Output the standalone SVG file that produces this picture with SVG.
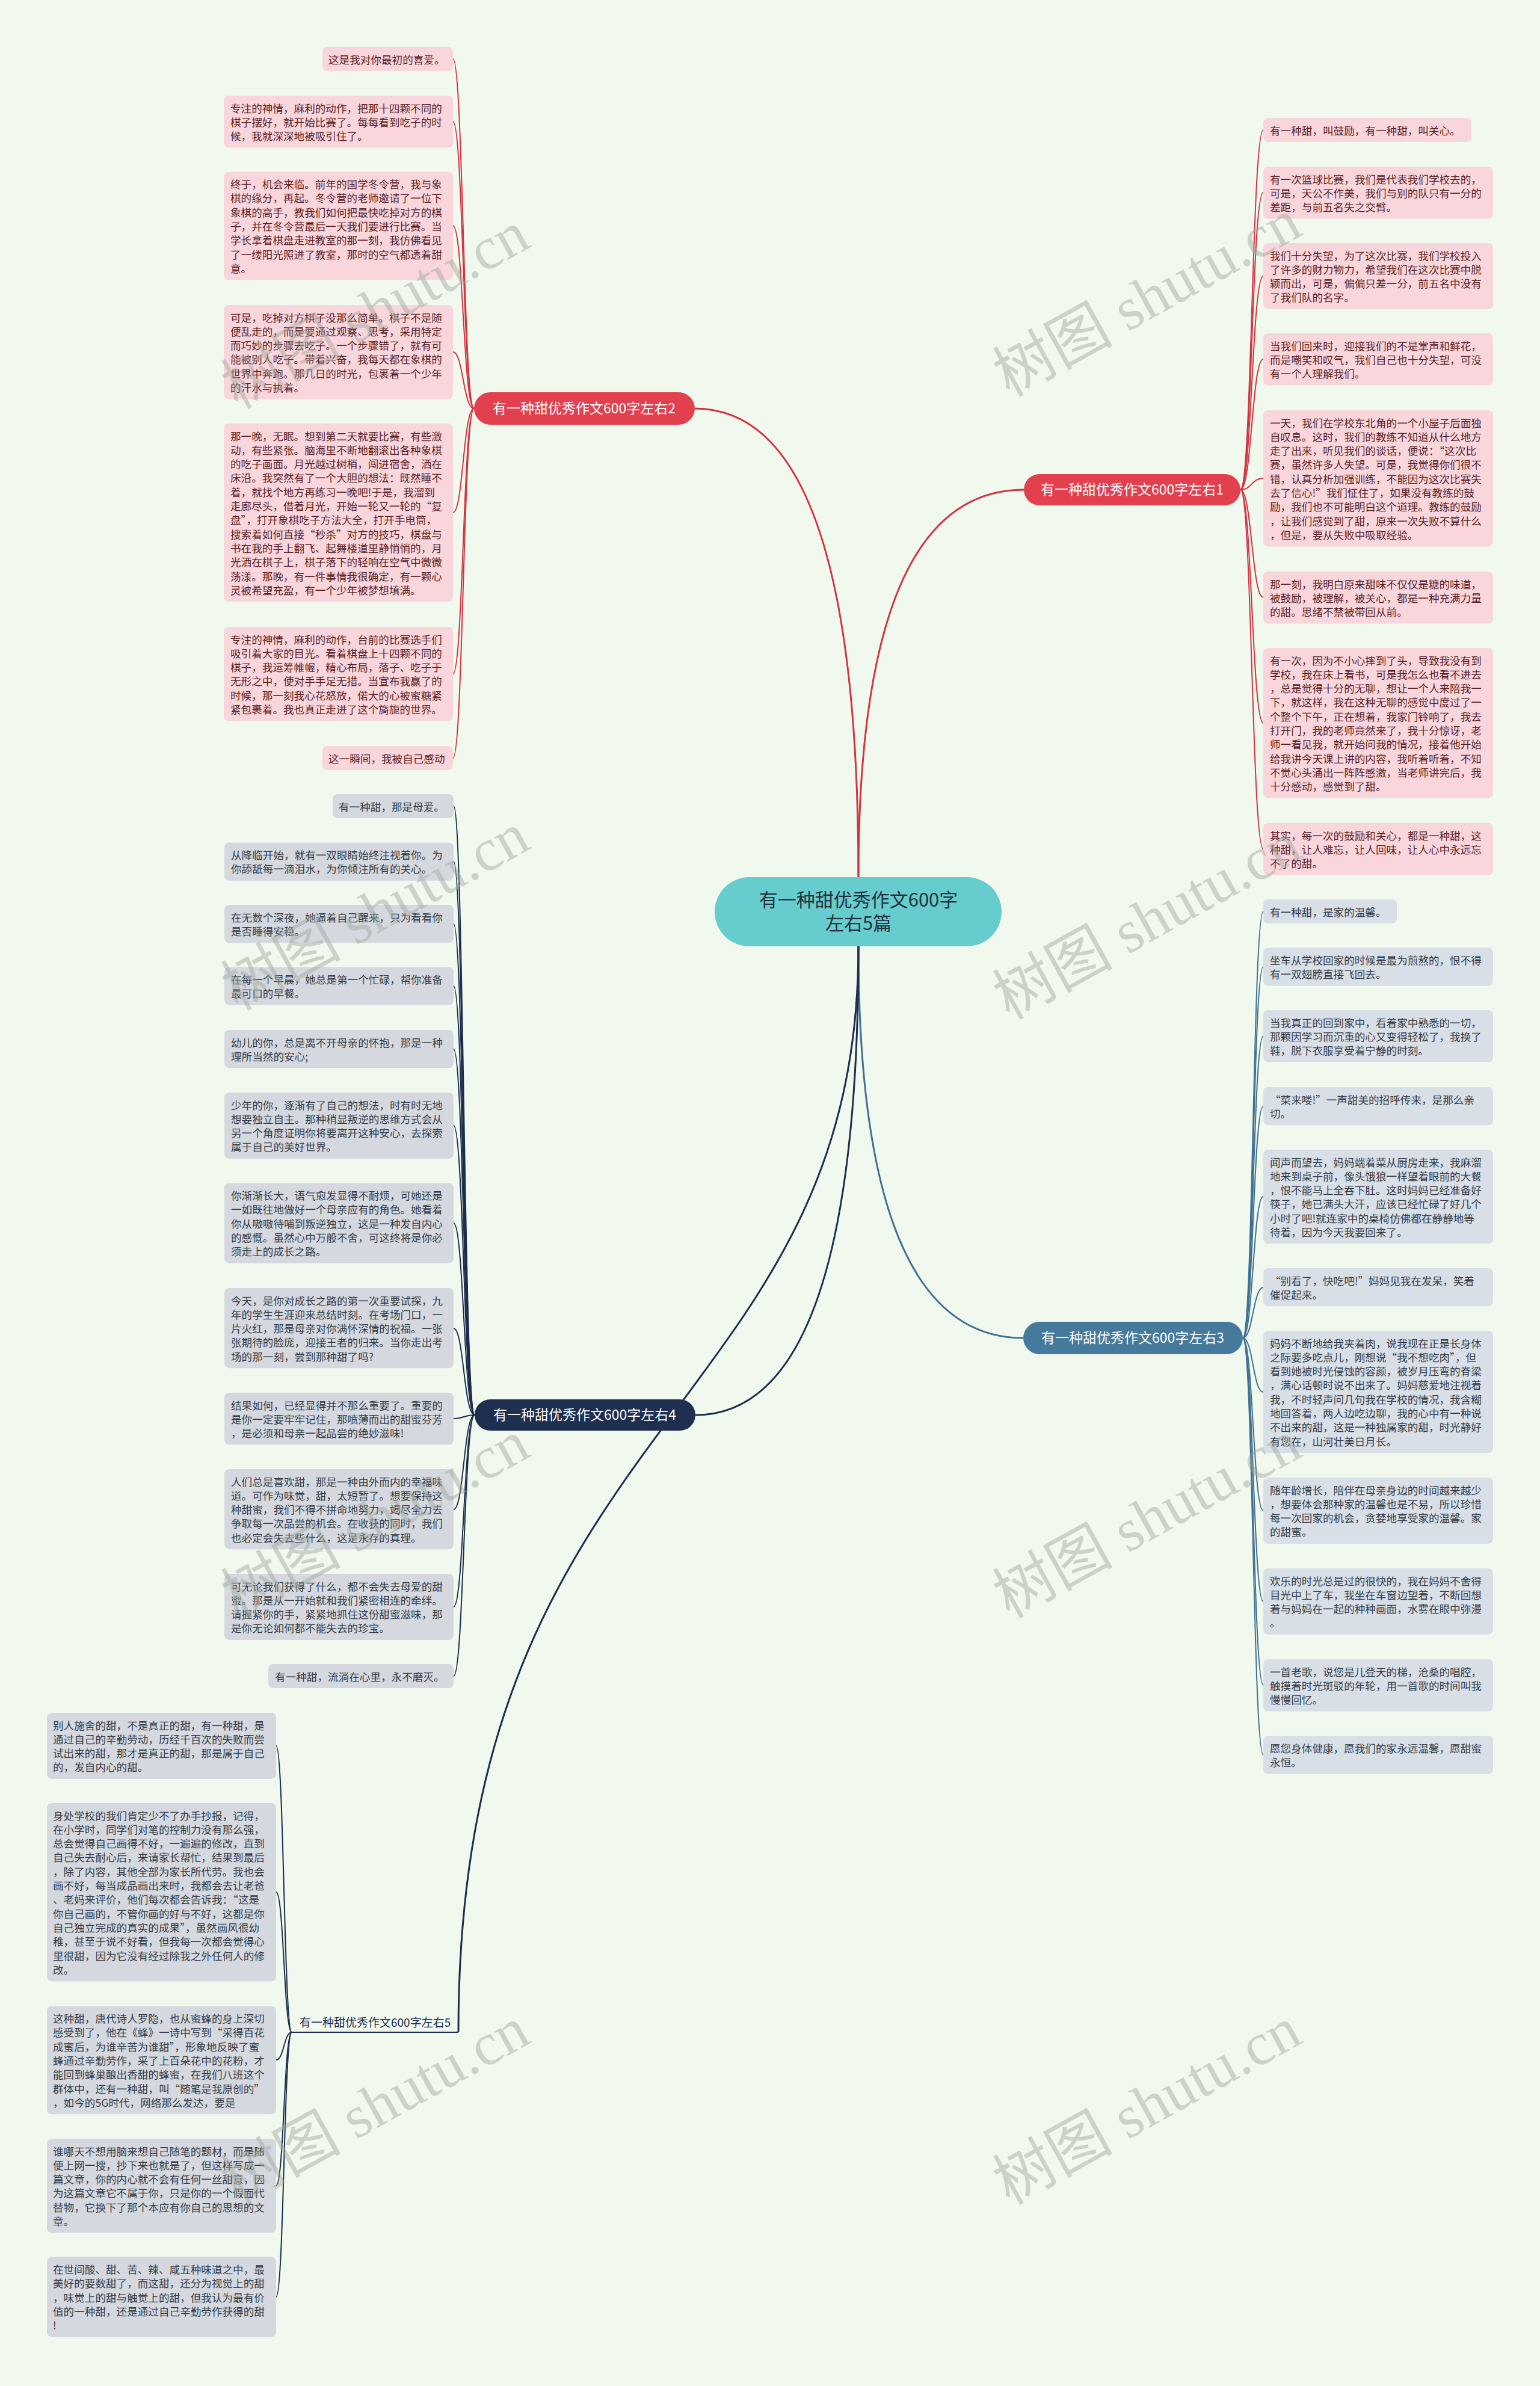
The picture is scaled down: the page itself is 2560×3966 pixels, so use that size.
<svg xmlns="http://www.w3.org/2000/svg" width="2560" height="3966" viewBox="0 0 2560 3966">
<style>
.bg{fill:#f1f9ee}
.wm{font-family:"Liberation Serif","Noto Sans CJK SC",serif;font-size:100px;fill:#9ea79e;opacity:.45;text-anchor:middle}
.ctr{fill:#66cccd}
.ctrt{font-family:"Noto Sans CJK SC",sans-serif;font-size:31px;fill:#22303c;text-anchor:middle}
.tt{font-family:"Noto Sans CJK SC",sans-serif;font-size:23px;fill:#ffffff;text-anchor:middle}
.t5{font-family:"Noto Sans CJK SC",sans-serif;font-size:19px;fill:#1c2d4d}
.red{fill:#e2404f}
.blue{fill:#467a9c}
.navy{fill:#1e2f4f}
.pk{fill:#f9d6dc}
.gb{fill:#d8dfe7}
.gr{fill:#d5d9df}
.ct{font-family:"Noto Sans CJK SC",sans-serif;font-size:17.6px}
.ctr-r{fill:#5a1f26}
.ctr-g{fill:#333b47}
.lr{fill:none;stroke:#d3333f}
.lb{fill:none;stroke:#3f7191}
.ln{fill:none;stroke:#1c2d4d}
.main{stroke-width:3}
.sub{stroke-width:2}
</style>
<rect class="bg" x="0" y="0" width="2560" height="3966"/>

<g id="connectors">
<path class="lr main" d="M1427,1458 Q1427,814 1702,814"/>
<path class="lr main" d="M1427,1458 Q1427,679 1155,679"/>
<path class="lb main" d="M1427,1573 Q1427,2224 1701,2224"/>
<path class="ln main" d="M1427,1573 Q1427,2352 1156,2352"/>
<path class="ln main" d="M1427,1573 C1427,2352 762,2352 762,3378"/>
<g class="lr sub">
<path d="M2062,814 C2081,814 2081,216 2100,216"/>
<path d="M2062,814 C2081,814 2081,320 2100,320"/>
<path d="M2062,814 C2081,814 2081,459 2100,459"/>
<path d="M2062,814 C2081,814 2081,597 2100,597"/>
<path d="M2062,814 C2081,814 2081,795 2100,795"/>
<path d="M2062,814 C2081,814 2081,993 2100,993"/>
<path d="M2062,814 C2081,814 2081,1202 2100,1202"/>
<path d="M2062,814 C2081,814 2081,1411 2100,1411"/>
<path d="M788,679 C770,679 770,98 753,98"/>
<path d="M788,679 C770,679 770,202 753,202"/>
<path d="M788,679 C770,679 770,375 753,375"/>
<path d="M788,679 C770,679 770,585 753,585"/>
<path d="M788,679 C770,679 770,852 753,852"/>
<path d="M788,679 C770,679 770,1120 753,1120"/>
<path d="M788,679 C770,679 770,1260 753,1260"/>
</g>
<g class="lb sub">
<path d="M2066,2224 C2083,2224 2083,1515 2100,1515"/>
<path d="M2066,2224 C2083,2224 2083,1607 2100,1607"/>
<path d="M2066,2224 C2083,2224 2083,1722 2100,1722"/>
<path d="M2066,2224 C2083,2224 2083,1839 2100,1839"/>
<path d="M2066,2224 C2083,2224 2083,1989 2100,1989"/>
<path d="M2066,2224 C2083,2224 2083,2140 2100,2140"/>
<path d="M2066,2224 C2083,2224 2083,2314 2100,2314"/>
<path d="M2066,2224 C2083,2224 2083,2511 2100,2511"/>
<path d="M2066,2224 C2083,2224 2083,2662 2100,2662"/>
<path d="M2066,2224 C2083,2224 2083,2801 2100,2801"/>
<path d="M2066,2224 C2083,2224 2083,2917 2100,2917"/>
</g>
<g class="ln sub">
<path d="M789,2352 C771,2352 771,1340 754,1340"/>
<path d="M789,2352 C771,2352 771,1432 754,1432"/>
<path d="M789,2352 C771,2352 771,1536 754,1536"/>
<path d="M789,2352 C771,2352 771,1639 754,1639"/>
<path d="M789,2352 C771,2352 771,1744 754,1744"/>
<path d="M789,2352 C771,2352 771,1871 754,1871"/>
<path d="M789,2352 C771,2352 771,2033 754,2033"/>
<path d="M789,2352 C771,2352 771,2208 754,2208"/>
<path d="M789,2352 C771,2352 771,2358 754,2358"/>
<path d="M789,2352 C771,2352 771,2509 754,2509"/>
<path d="M789,2352 C771,2352 771,2671 754,2671"/>
<path d="M789,2352 C771,2352 771,2786 754,2786"/>
<path d="M485,3378 C472,3378 472,2902 459,2902"/>
<path d="M485,3378 C472,3378 472,3145 459,3145"/>
<path d="M485,3378 C472,3378 472,3424 459,3424"/>
<path d="M485,3378 C472,3378 472,3633 459,3633"/>
<path d="M485,3378 C472,3378 472,3818 459,3818"/>
</g>
</g>

<g id="center">
<rect class="ctr" x="1188" y="1458" width="477" height="115" rx="57.5"/>
<text class="ctrt" x="1427" y="1507">有一种甜优秀作文600字</text>
<text class="ctrt" x="1427" y="1546">左右5篇</text>
</g>

<g id="topic1">
<rect class="red" x="1702" y="788" width="360" height="52" rx="26"/>
<text class="tt" x="1882" y="822">有一种甜优秀作文600字左右1</text>
</g>
<g id="topic2">
<rect class="red" x="788" y="652" width="367" height="54" rx="27"/>
<text class="tt" x="971" y="687">有一种甜优秀作文600字左右2</text>
</g>
<g id="topic3">
<rect class="blue" x="1701" y="2197" width="365" height="54" rx="27"/>
<text class="tt" x="1883" y="2232">有一种甜优秀作文600字左右3</text>
</g>
<g id="topic4">
<rect class="navy" x="789" y="2326" width="367" height="52" rx="26"/>
<text class="tt" x="972" y="2360">有一种甜优秀作文600字左右4</text>
</g>
<g id="topic5">
<text class="t5" x="498" y="3369">有一种甜优秀作文600字左右5</text>
<path class="ln sub" d="M762,3378 L485,3378"/>
</g>

<g id="t1c1"><rect class="pk" x="2100" y="196" width="346" height="40" rx="8"/>
<text class="ct ctr-r" x="2111" y="223.5">有一种甜，叫鼓励，有一种甜，叫关心。</text></g>
<g id="t1c2"><rect class="pk" x="2100" y="277" width="382" height="86.6" rx="8"/>
<text class="ct ctr-r" y="304.5"><tspan x="2111">有一次篮球比赛，我们是代表我们学校去的，</tspan><tspan x="2111" dy="23.3">可是，天公不作美，我们与别的队只有一分的</tspan><tspan x="2111" dy="23.3">差距，与前五名失之交臂。</tspan></text></g>
<g id="t1c3"><rect class="pk" x="2100" y="404" width="382" height="109.9" rx="8"/>
<text class="ct ctr-r" y="431.5"><tspan x="2111">我们十分失望，为了这次比赛，我们学校投入</tspan><tspan x="2111" dy="23.3">了许多的财力物力，希望我们在这次比赛中脱</tspan><tspan x="2111" dy="23.3">颖而出，可是，偏偏只差一分，前五名中没有</tspan><tspan x="2111" dy="23.3">了我们队的名字。</tspan></text></g>
<g id="t1c4"><rect class="pk" x="2100" y="554" width="382" height="86.6" rx="8"/>
<text class="ct ctr-r" y="581.5"><tspan x="2111">当我们回来时，迎接我们的不是掌声和鲜花，</tspan><tspan x="2111" dy="23.3">而是嘲笑和叹气，我们自己也十分失望，可没</tspan><tspan x="2111" dy="23.3">有一个人理解我们。</tspan></text></g>
<g id="t1c5"><rect class="pk" x="2100" y="682" width="382" height="226.4" rx="8"/>
<text class="ct ctr-r" y="709.5"><tspan x="2111">一天，我们在学校东北角的一个小屋子后面独</tspan><tspan x="2111" dy="23.3">自叹息。这时，我们的教练不知道从什么地方</tspan><tspan x="2111" dy="23.3">走了出来，听见我们的谈话，便说：“这次比</tspan><tspan x="2111" dy="23.3">赛，虽然许多人失望。可是，我觉得你们很不</tspan><tspan x="2111" dy="23.3">错，认真分析加强训练，不能因为这次比赛失</tspan><tspan x="2111" dy="23.3">去了信心!”我们怔住了，如果没有教练的鼓</tspan><tspan x="2111" dy="23.3">励，我们也不可能明白这个道理。教练的鼓励</tspan><tspan x="2111" dy="23.3">，让我们感觉到了甜，原来一次失败不算什么</tspan><tspan x="2111" dy="23.3">，但是，要从失败中吸取经验。</tspan></text></g>
<g id="t1c6"><rect class="pk" x="2100" y="950" width="382" height="86.6" rx="8"/>
<text class="ct ctr-r" y="977.5"><tspan x="2111">那一刻，我明白原来甜味不仅仅是糖的味道，</tspan><tspan x="2111" dy="23.3">被鼓励，被理解，被关心，都是一种充满力量</tspan><tspan x="2111" dy="23.3">的甜。思绪不禁被带回从前。</tspan></text></g>
<g id="t1c7"><rect class="pk" x="2100" y="1077" width="382" height="249.7" rx="8"/>
<text class="ct ctr-r" y="1104.5"><tspan x="2111">有一次，因为不小心摔到了头，导致我没有到</tspan><tspan x="2111" dy="23.3">学校，我在床上看书，可是我怎么也看不进去</tspan><tspan x="2111" dy="23.3">，总是觉得十分的无聊，想让一个人来陪我一</tspan><tspan x="2111" dy="23.3">下，就这样，我在这种无聊的感觉中度过了一</tspan><tspan x="2111" dy="23.3">个整个下午，正在想着，我家门铃响了，我去</tspan><tspan x="2111" dy="23.3">打开门，我的老师竟然来了，我十分惊讶，老</tspan><tspan x="2111" dy="23.3">师一看见我，就开始问我的情况，接着他开始</tspan><tspan x="2111" dy="23.3">给我讲今天课上讲的内容，我听着听着，不知</tspan><tspan x="2111" dy="23.3">不觉心头涌出一阵阵感激，当老师讲完后，我</tspan><tspan x="2111" dy="23.3">十分感动，感觉到了甜。</tspan></text></g>
<g id="t1c8"><rect class="pk" x="2100" y="1368" width="382" height="86.6" rx="8"/>
<text class="ct ctr-r" y="1395.5"><tspan x="2111">其实，每一次的鼓励和关心，都是一种甜，这</tspan><tspan x="2111" dy="23.3">种甜，让人难忘，让人回味，让人心中永远忘</tspan><tspan x="2111" dy="23.3">不了的甜。</tspan></text></g>

<g id="t2c1"><rect class="pk" x="536" y="78" width="217" height="40" rx="8"/>
<text class="ct ctr-r" x="546" y="105.5">这是我对你最初的喜爱。</text></g>
<g id="t2c2"><rect class="pk" x="372" y="159" width="381" height="86.6" rx="8"/>
<text class="ct ctr-r" y="186.5"><tspan x="383">专注的神情，麻利的动作，把那十四颗不同的</tspan><tspan x="383" dy="23.3">棋子摆好，就开始比赛了。每每看到吃子的时</tspan><tspan x="383" dy="23.3">候，我就深深地被吸引住了。</tspan></text></g>
<g id="t2c3"><rect class="pk" x="372" y="285.5" width="381" height="179.8" rx="8"/>
<text class="ct ctr-r" y="313"><tspan x="383">终于，机会来临。前年的国学冬令营，我与象</tspan><tspan x="383" dy="23.3">棋的缘分，再起。冬令营的老师邀请了一位下</tspan><tspan x="383" dy="23.3">象棋的高手，教我们如何把最快吃掉对方的棋</tspan><tspan x="383" dy="23.3">子，并在冬令营最后一天我们要进行比赛。当</tspan><tspan x="383" dy="23.3">学长拿着棋盘走进教室的那一刻，我仿佛看见</tspan><tspan x="383" dy="23.3">了一缕阳光照进了教室，那时的空气都透着甜</tspan><tspan x="383" dy="23.3">意。</tspan></text></g>
<g id="t2c4"><rect class="pk" x="372" y="507" width="381" height="156.5" rx="8"/>
<text class="ct ctr-r" y="534.5"><tspan x="383">可是，吃掉对方棋子没那么简单。棋子不是随</tspan><tspan x="383" dy="23.3">便乱走的，而是要通过观察、思考，采用特定</tspan><tspan x="383" dy="23.3">而巧妙的步骤去吃子。一个步骤错了，就有可</tspan><tspan x="383" dy="23.3">能被别人吃子。带着兴奋，我每天都在象棋的</tspan><tspan x="383" dy="23.3">世界中奔跑。那几日的时光，包裹着一个少年</tspan><tspan x="383" dy="23.3">的汗水与执着。</tspan></text></g>
<g id="t2c5"><rect class="pk" x="372" y="704" width="381" height="296.3" rx="8"/>
<text class="ct ctr-r" y="731.5"><tspan x="383">那一晚，无眠。想到第二天就要比赛，有些激</tspan><tspan x="383" dy="23.3">动，有些紧张。脑海里不断地翻滚出各种象棋</tspan><tspan x="383" dy="23.3">的吃子画面。月光越过树梢，闯进宿舍，洒在</tspan><tspan x="383" dy="23.3">床沿。我突然有了一个大胆的想法：既然睡不</tspan><tspan x="383" dy="23.3">着，就找个地方再练习一晚吧!于是，我溜到</tspan><tspan x="383" dy="23.3">走廊尽头，借着月光，开始一轮又一轮的“复</tspan><tspan x="383" dy="23.3">盘”，打开象棋吃子方法大全，打开手电筒，</tspan><tspan x="383" dy="23.3">搜索着如何直接“秒杀”对方的技巧，棋盘与</tspan><tspan x="383" dy="23.3">书在我的手上翻飞、起舞楼道里静悄悄的，月</tspan><tspan x="383" dy="23.3">光洒在棋子上，棋子落下的轻响在空气中微微</tspan><tspan x="383" dy="23.3">荡漾。那晚，有一件事情我很确定，有一颗心</tspan><tspan x="383" dy="23.3">灵被希望充盈，有一个少年被梦想填满。</tspan></text></g>
<g id="t2c6"><rect class="pk" x="372" y="1042" width="381" height="156.5" rx="8"/>
<text class="ct ctr-r" y="1069.5"><tspan x="383">专注的神情，麻利的动作，台前的比赛选手们</tspan><tspan x="383" dy="23.3">吸引着大家的目光。看着棋盘上十四颗不同的</tspan><tspan x="383" dy="23.3">棋子，我运筹帷幄，精心布局，落子、吃子于</tspan><tspan x="383" dy="23.3">无形之中，使对手手足无措。当宣布我赢了的</tspan><tspan x="383" dy="23.3">时候，那一刻我心花怒放，偌大的心被蜜糖紧</tspan><tspan x="383" dy="23.3">紧包裹着。我也真正走进了这个旖旎的世界。</tspan></text></g>
<g id="t2c7"><rect class="pk" x="536" y="1240" width="217" height="40" rx="8"/>
<text class="ct ctr-r" x="546" y="1267.5">这一瞬间，我被自己感动</text></g>

<g id="t3c1"><rect class="gb" x="2100" y="1495" width="222" height="40" rx="8"/>
<text class="ct ctr-g" x="2111" y="1522.5">有一种甜，是家的温馨。</text></g>
<g id="t3c2"><rect class="gb" x="2100" y="1575.5" width="382" height="63.3" rx="8"/>
<text class="ct ctr-g" y="1603"><tspan x="2111">坐车从学校回家的时候是最为煎熬的，恨不得</tspan><tspan x="2111" dy="23.3">有一双翅膀直接飞回去。</tspan></text></g>
<g id="t3c3"><rect class="gb" x="2100" y="1679" width="382" height="86.6" rx="8"/>
<text class="ct ctr-g" y="1706.5"><tspan x="2111">当我真正的回到家中，看着家中熟悉的一切，</tspan><tspan x="2111" dy="23.3">那颗因学习而沉重的心又变得轻松了，我换了</tspan><tspan x="2111" dy="23.3">鞋，脱下衣服享受着宁静的时刻。</tspan></text></g>
<g id="t3c4"><rect class="gb" x="2100" y="1807" width="382" height="63.3" rx="8"/>
<text class="ct ctr-g" y="1834.5"><tspan x="2111">“菜来喽!”一声甜美的招呼传来，是那么亲</tspan><tspan x="2111" dy="23.3">切。</tspan></text></g>
<g id="t3c5"><rect class="gb" x="2100" y="1911" width="382" height="156.5" rx="8"/>
<text class="ct ctr-g" y="1938.5"><tspan x="2111">闻声而望去，妈妈端着菜从厨房走来，我麻溜</tspan><tspan x="2111" dy="23.3">地来到桌子前，像头饿狼一样望着眼前的大餐</tspan><tspan x="2111" dy="23.3">，恨不能马上全吞下肚。这时妈妈已经准备好</tspan><tspan x="2111" dy="23.3">筷子，她已满头大汗，应该已经忙碌了好几个</tspan><tspan x="2111" dy="23.3">小时了吧!就连家中的桌椅仿佛都在静静地等</tspan><tspan x="2111" dy="23.3">待着，因为今天我要回来了。</tspan></text></g>
<g id="t3c6"><rect class="gb" x="2100" y="2108" width="382" height="63.3" rx="8"/>
<text class="ct ctr-g" y="2135.5"><tspan x="2111">“别看了，快吃吧!”妈妈见我在发呆，笑着</tspan><tspan x="2111" dy="23.3">催促起来。</tspan></text></g>
<g id="t3c7"><rect class="gb" x="2100" y="2212" width="382" height="203.1" rx="8"/>
<text class="ct ctr-g" y="2239.5"><tspan x="2111">妈妈不断地给我夹着肉，说我现在正是长身体</tspan><tspan x="2111" dy="23.3">之际要多吃点儿，刚想说“我不想吃肉”，但</tspan><tspan x="2111" dy="23.3">看到她被时光侵蚀的容颜，被岁月压弯的脊梁</tspan><tspan x="2111" dy="23.3">，满心话顿时说不出来了。妈妈慈爱地注视着</tspan><tspan x="2111" dy="23.3">我，不时轻声问几句我在学校的情况，我含糊</tspan><tspan x="2111" dy="23.3">地回答着，两人边吃边聊，我的心中有一种说</tspan><tspan x="2111" dy="23.3">不出来的甜，这是一种独属家的甜，时光静好</tspan><tspan x="2111" dy="23.3">有您在，山河壮美日月长。</tspan></text></g>
<g id="t3c8"><rect class="gb" x="2100" y="2456" width="382" height="109.9" rx="8"/>
<text class="ct ctr-g" y="2483.5"><tspan x="2111">随年龄增长，陪伴在母亲身边的时间越来越少</tspan><tspan x="2111" dy="23.3">，想要体会那种家的温馨也是不易，所以珍惜</tspan><tspan x="2111" dy="23.3">每一次回家的机会，贪婪地享受家的温馨。家</tspan><tspan x="2111" dy="23.3">的甜蜜。</tspan></text></g>
<g id="t3c9"><rect class="gb" x="2100" y="2607" width="382" height="109.9" rx="8"/>
<text class="ct ctr-g" y="2634.5"><tspan x="2111">欢乐的时光总是过的很快的，我在妈妈不舍得</tspan><tspan x="2111" dy="23.3">目光中上了车，我坐在车窗边望着，不断回想</tspan><tspan x="2111" dy="23.3">着与妈妈在一起的种种画面，水雾在眼中弥漫</tspan><tspan x="2111" dy="23.3">。</tspan></text></g>
<g id="t3c10"><rect class="gb" x="2100" y="2758" width="382" height="86.6" rx="8"/>
<text class="ct ctr-g" y="2785.5"><tspan x="2111">一首老歌，说您是儿登天的梯，沧桑的唱腔，</tspan><tspan x="2111" dy="23.3">触摸着时光斑驳的年轮，用一首歌的时间叫我</tspan><tspan x="2111" dy="23.3">慢慢回忆。</tspan></text></g>
<g id="t3c11"><rect class="gb" x="2100" y="2885.5" width="382" height="63.3" rx="8"/>
<text class="ct ctr-g" y="2913"><tspan x="2111">愿您身体健康，愿我们的家永远温馨，愿甜蜜</tspan><tspan x="2111" dy="23.3">永恒。</tspan></text></g>

<g id="t4c1"><rect class="gr" x="553" y="1320" width="201" height="40" rx="8"/>
<text class="ct ctr-g" x="563" y="1347.5">有一种甜，那是母爱。</text></g>
<g id="t4c2"><rect class="gr" x="373" y="1400.5" width="381" height="63.3" rx="8"/>
<text class="ct ctr-g" y="1428"><tspan x="384">从降临开始，就有一双眼睛始终注视着你。为</tspan><tspan x="384" dy="23.3">你舔舐每一滴泪水，为你倾注所有的关心。</tspan></text></g>
<g id="t4c3"><rect class="gr" x="373" y="1504" width="381" height="63.3" rx="8"/>
<text class="ct ctr-g" y="1531.5"><tspan x="384">在无数个深夜，她逼着自己醒来，只为看看你</tspan><tspan x="384" dy="23.3">是否睡得安稳。</tspan></text></g>
<g id="t4c4"><rect class="gr" x="373" y="1607.5" width="381" height="63.3" rx="8"/>
<text class="ct ctr-g" y="1635"><tspan x="384">在每一个早晨，她总是第一个忙碌，帮你准备</tspan><tspan x="384" dy="23.3">最可口的早餐。</tspan></text></g>
<g id="t4c5"><rect class="gr" x="373" y="1712" width="381" height="63.3" rx="8"/>
<text class="ct ctr-g" y="1739.5"><tspan x="384">幼儿的你，总是离不开母亲的怀抱，那是一种</tspan><tspan x="384" dy="23.3">理所当然的安心;</tspan></text></g>
<g id="t4c6"><rect class="gr" x="373" y="1816" width="381" height="109.9" rx="8"/>
<text class="ct ctr-g" y="1843.5"><tspan x="384">少年的你，逐渐有了自己的想法，时有时无地</tspan><tspan x="384" dy="23.3">想要独立自主。那种稍显叛逆的思维方式会从</tspan><tspan x="384" dy="23.3">另一个角度证明你将要离开这种安心，去探索</tspan><tspan x="384" dy="23.3">属于自己的美好世界。</tspan></text></g>
<g id="t4c7"><rect class="gr" x="373" y="1966.5" width="381" height="133.2" rx="8"/>
<text class="ct ctr-g" y="1994"><tspan x="384">你渐渐长大，语气愈发显得不耐烦，可她还是</tspan><tspan x="384" dy="23.3">一如既往地做好一个母亲应有的角色。她看着</tspan><tspan x="384" dy="23.3">你从嗷嗷待哺到叛逆独立，这是一种发自内心</tspan><tspan x="384" dy="23.3">的感慨。虽然心中万般不舍，可这终将是你必</tspan><tspan x="384" dy="23.3">须走上的成长之路。</tspan></text></g>
<g id="t4c8"><rect class="gr" x="373" y="2141" width="381" height="133.2" rx="8"/>
<text class="ct ctr-g" y="2168.5"><tspan x="384">今天，是你对成长之路的第一次重要试探，九</tspan><tspan x="384" dy="23.3">年的学生生涯迎来总结时刻。在考场门口，一</tspan><tspan x="384" dy="23.3">片火红，那是母亲对你满怀深情的祝福。一张</tspan><tspan x="384" dy="23.3">张期待的脸庞，迎接王者的归来。当你走出考</tspan><tspan x="384" dy="23.3">场的那一刻，尝到那种甜了吗?</tspan></text></g>
<g id="t4c9"><rect class="gr" x="373" y="2315" width="381" height="86.6" rx="8"/>
<text class="ct ctr-g" y="2342.5"><tspan x="384">结果如何，已经显得并不那么重要了。重要的</tspan><tspan x="384" dy="23.3">是你一定要牢牢记住，那喷薄而出的甜蜜芬芳</tspan><tspan x="384" dy="23.3">，是必须和母亲一起品尝的绝妙滋味!</tspan></text></g>
<g id="t4c10"><rect class="gr" x="373" y="2442" width="381" height="133.2" rx="8"/>
<text class="ct ctr-g" y="2469.5"><tspan x="384">人们总是喜欢甜，那是一种由外而内的幸福味</tspan><tspan x="384" dy="23.3">道。可作为味觉，甜，太短暂了。想要保持这</tspan><tspan x="384" dy="23.3">种甜蜜，我们不得不拼命地努力，竭尽全力去</tspan><tspan x="384" dy="23.3">争取每一次品尝的机会。在收获的同时，我们</tspan><tspan x="384" dy="23.3">也必定会失去些什么，这是永存的真理。</tspan></text></g>
<g id="t4c11"><rect class="gr" x="373" y="2616" width="381" height="109.9" rx="8"/>
<text class="ct ctr-g" y="2643.5"><tspan x="384">可无论我们获得了什么，都不会失去母爱的甜</tspan><tspan x="384" dy="23.3">蜜。那是从一开始就和我们紧密相连的牵绊。</tspan><tspan x="384" dy="23.3">请握紧你的手，紧紧地抓住这份甜蜜滋味，那</tspan><tspan x="384" dy="23.3">是你无论如何都不能失去的珍宝。</tspan></text></g>
<g id="t4c12"><rect class="gr" x="446" y="2766" width="308" height="40" rx="8"/>
<text class="ct ctr-g" x="457" y="2793.5">有一种甜，流淌在心里，永不磨灭。</text></g>

<g id="t5c1"><rect class="gr" x="78" y="2847" width="381" height="109.9" rx="8"/>
<text class="ct ctr-g" y="2874.5"><tspan x="88">别人施舍的甜，不是真正的甜，有一种甜，是</tspan><tspan x="88" dy="23.3">通过自己的辛勤劳动，历经千百次的失败而尝</tspan><tspan x="88" dy="23.3">试出来的甜，那才是真正的甜，那是属于自己</tspan><tspan x="88" dy="23.3">的，发自内心的甜。</tspan></text></g>
<g id="t5c2"><rect class="gr" x="78" y="2997" width="381" height="296.3" rx="8"/>
<text class="ct ctr-g" y="3024.5"><tspan x="88">身处学校的我们肯定少不了办手抄报，记得，</tspan><tspan x="88" dy="23.3">在小学时，同学们对笔的控制力没有那么强，</tspan><tspan x="88" dy="23.3">总会觉得自己画得不好，一遍遍的修改，直到</tspan><tspan x="88" dy="23.3">自己失去耐心后，来请家长帮忙，结果到最后</tspan><tspan x="88" dy="23.3">，除了内容，其他全部为家长所代劳。我也会</tspan><tspan x="88" dy="23.3">画不好，每当成品画出来时，我都会去让老爸</tspan><tspan x="88" dy="23.3">、老妈来评价，他们每次都会告诉我：“这是</tspan><tspan x="88" dy="23.3">你自己画的，不管你画的好与不好，这都是你</tspan><tspan x="88" dy="23.3">自己独立完成的真实的成果”，虽然画风很幼</tspan><tspan x="88" dy="23.3">稚，甚至于说不好看，但我每一次都会觉得心</tspan><tspan x="88" dy="23.3">里很甜，因为它没有经过除我之外任何人的修</tspan><tspan x="88" dy="23.3">改。</tspan></text></g>
<g id="t5c3"><rect class="gr" x="78" y="3334.5" width="381" height="179.8" rx="8"/>
<text class="ct ctr-g" y="3362"><tspan x="88">这种甜，唐代诗人罗隐，也从蜜蜂的身上深切</tspan><tspan x="88" dy="23.3">感受到了，他在《蜂》一诗中写到“采得百花</tspan><tspan x="88" dy="23.3">成蜜后，为谁辛苦为谁甜”，形象地反映了蜜</tspan><tspan x="88" dy="23.3">蜂通过辛勤劳作，采了上百朵花中的花粉，才</tspan><tspan x="88" dy="23.3">能回到蜂巢酿出香甜的蜂蜜，在我们八班这个</tspan><tspan x="88" dy="23.3">群体中，还有一种甜，叫“随笔是我原创的”</tspan><tspan x="88" dy="23.3">，如今的5G时代，网络那么发达，要是</tspan></text></g>
<g id="t5c4"><rect class="gr" x="78" y="3555" width="381" height="156.5" rx="8"/>
<text class="ct ctr-g" y="3582.5"><tspan x="88">谁哪天不想用脑来想自己随笔的题材，而是随</tspan><tspan x="88" dy="23.3">便上网一搜，抄下来也就是了，但这样写成一</tspan><tspan x="88" dy="23.3">篇文章，你的内心就不会有任何一丝甜意，因</tspan><tspan x="88" dy="23.3">为这篇文章它不属于你，只是你的一个假面代</tspan><tspan x="88" dy="23.3">替物，它换下了那个本应有你自己的思想的文</tspan><tspan x="88" dy="23.3">章。</tspan></text></g>
<g id="t5c5"><rect class="gr" x="78" y="3751.5" width="381" height="133.2" rx="8"/>
<text class="ct ctr-g" y="3779"><tspan x="88">在世间酸、甜、苦、辣、咸五种味道之中，最</tspan><tspan x="88" dy="23.3">美好的要数甜了，而这甜，还分为视觉上的甜</tspan><tspan x="88" dy="23.3">，味觉上的甜与触觉上的甜，但我认为最有价</tspan><tspan x="88" dy="23.3">值的一种甜，还是通过自己辛勤劳作获得的甜</tspan><tspan x="88" dy="23.3">!</tspan></text></g>

<g id="watermarks">
<text class="wm" transform="translate(640,545) rotate(-29)">树图 shutu.cn</text>
<text class="wm" transform="translate(1923,525) rotate(-29)">树图 shutu.cn</text>
<text class="wm" transform="translate(640,1545) rotate(-29)">树图 shutu.cn</text>
<text class="wm" transform="translate(1923,1560) rotate(-29)">树图 shutu.cn</text>
<text class="wm" transform="translate(640,2555) rotate(-29)">树图 shutu.cn</text>
<text class="wm" transform="translate(1923,2555) rotate(-29)">树图 shutu.cn</text>
<text class="wm" transform="translate(640,3530) rotate(-29)">树图 shutu.cn</text>
<text class="wm" transform="translate(1923,3530) rotate(-29)">树图 shutu.cn</text>
</g>
</svg>
